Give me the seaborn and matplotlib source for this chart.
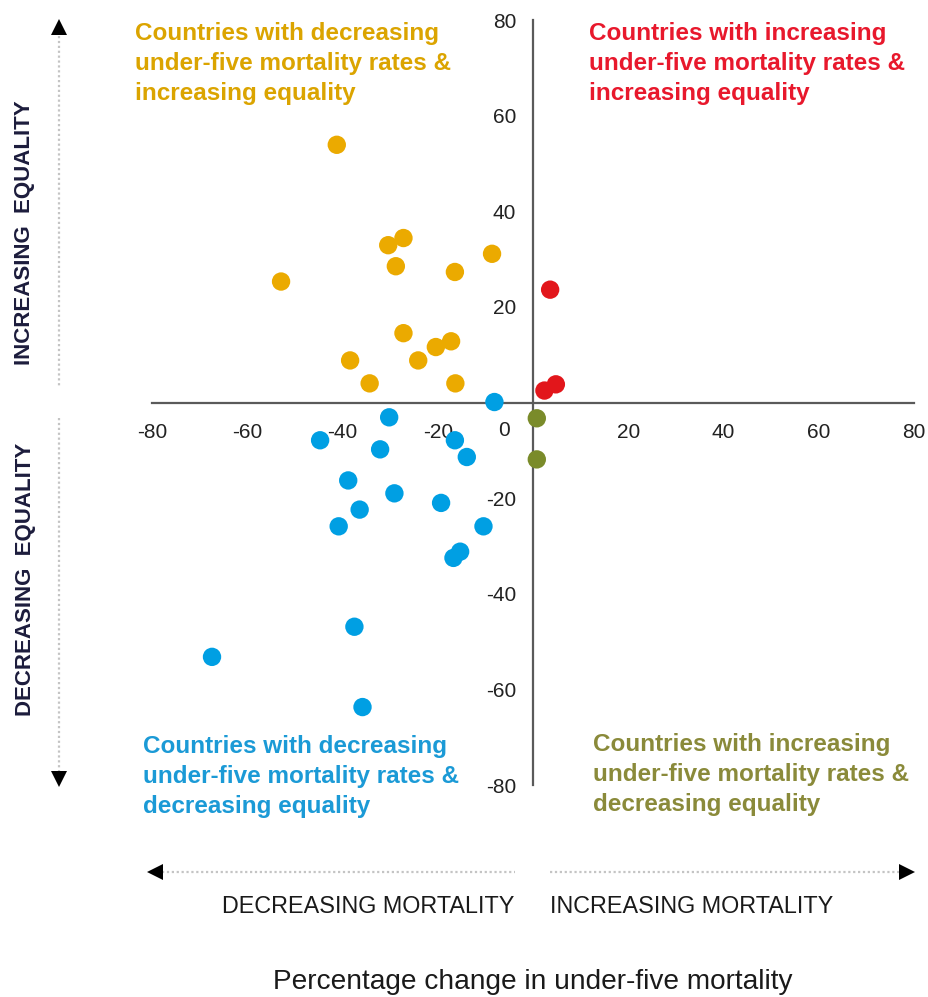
import numpy as np
import pandas as pd
import matplotlib.pyplot as plt
import seaborn as sns

# percentage change in under-five mortality (x) vs change in equality (y)
orange_x = [-41.2, -27.2, -30.4, -8.6, -28.8, -16.4, -52.9, -27.2, -17.2, -20.4, -38.4, -24.1, -34.3, -16.3]
orange_y = [53.9, 34.4, 32.9, 31.1, 28.5, 27.3, 25.3, 14.5, 12.8, 11.6, 8.8, 8.8, 4.0, 4.0]
blue_x = [-8.1, -30.2, -44.7, -16.4, -32.1, -13.9, -38.8, -29.1, -19.3, -36.4, -40.8, -10.4, -15.3, -16.7, -37.5, -67.4, -35.8]
blue_y = [0.1, -3.1, -7.9, -7.9, -9.8, -11.4, -16.3, -19.0, -21.0, -22.4, -25.9, -25.9, -31.2, -32.5, -46.9, -53.2, -63.7]
red_x = [3.6, 2.4, 4.8]
red_y = [23.6, 2.5, 3.8]
olive_x = [0.8, 0.8]
olive_y = [-3.3, -11.9]

ticks = [-80, -60, -40, -20, 20, 40, 60, 80]

df = pd.concat([
    pd.DataFrame({'x': orange_x, 'y': orange_y, 'group': 'dec_mort_inc_eq'}),
    pd.DataFrame({'x': blue_x, 'y': blue_y, 'group': 'dec_mort_dec_eq'}),
    pd.DataFrame({'x': red_x, 'y': red_y, 'group': 'inc_mort_inc_eq'}),
    pd.DataFrame({'x': olive_x, 'y': olive_y, 'group': 'inc_mort_dec_eq'}),
], ignore_index=True)

pal = {'dec_mort_inc_eq': '#EBAA00', 'dec_mort_dec_eq': '#009FE3',
       'inc_mort_inc_eq': '#E2161B', 'inc_mort_dec_eq': '#7A8B2A'}

sns.set_style('white')
plt.rcParams['font.family'] = ['Liberation Sans', 'DejaVu Sans']

W, H = 929, 997
fig = plt.figure(figsize=(W / 100, H / 100), dpi=100)
ax = fig.add_axes([152 / W, 1 - 785 / H, (914 - 152) / W, (785 - 20) / H])

sns.scatterplot(data=df, x='x', y='y', hue='group', palette=pal, s=175,
                edgecolor='none', legend=False, ax=ax, clip_on=False, zorder=3)

ax.set_xlim(-80, 80)
ax.set_ylim(-80, 80)
ax.set_xlabel('')
ax.set_ylabel('')
for s in ['top', 'right']:
    ax.spines[s].set_visible(False)
for s in ['left', 'bottom']:
    ax.spines[s].set_position(('data', 0))
    ax.spines[s].set_color('#5a5a5a')
    ax.spines[s].set_linewidth(1.6)

ax.set_xticks(ticks)
ax.set_yticks(ticks)
ax.set_xticklabels([str(t) for t in ticks])
ax.set_yticklabels([str(t) for t in ticks])
ax.tick_params(axis='both', direction='out', width=1.6, color='#5a5a5a',
               labelsize=15, labelcolor='#222222')
ax.tick_params(axis='x', length=7, pad=8)
ax.tick_params(axis='y', length=9, pad=3)
ax.annotate('0', xy=(0, 0), xytext=(-17, -13), textcoords='offset points',
            ha='right', va='top', fontsize=15, color='#222222')

# overlay in pixel coordinates for arrows and labels
ov = fig.add_axes([0, 0, 1, 1])
ov.set_xlim(0, W)
ov.set_ylim(H, 0)
ov.axis('off')

dot = dict(color='#c4c4c4', lw=1.6, ls=(0, (1, 1.2)))
ov.plot([59, 59], [36, 386], **dot)
ov.plot([59, 59], [418, 772], **dot)
ov.plot([162, 515], [872, 872], **dot)
ov.plot([550, 900], [872, 872], **dot)
ov.plot([59], [27], marker='^', color='black', ms=12, mew=0)
ov.plot([59], [779], marker='v', color='black', ms=12, mew=0)
ov.plot([155], [872], marker='<', color='black', ms=12, mew=0)
ov.plot([907], [872], marker='>', color='black', ms=12, mew=0)

side = dict(rotation=90, ha='center', va='center', fontsize=16,
            fontweight='bold', color='#1c1c3c')
ov.text(25, 233, 'INCREASING  EQUALITY', **side)
ov.text(26, 579, 'DECREASING  EQUALITY', **side)

ov.text(368, 906, 'DECREASING MORTALITY', ha='center', va='center',
        fontsize=16.8, color='#1a1a1a')
ov.text(692, 906, 'INCREASING MORTALITY', ha='center', va='center',
        fontsize=16.8, color='#1a1a1a')
ov.text(533, 982, 'Percentage change in under-five mortality', ha='center',
        va='center', fontsize=20.2, color='#1a1a1a')

quad = dict(ha='left', va='top', fontsize=17.5, fontweight='bold', linespacing=1.38)
ov.text(135, 22, 'Countries with decreasing\nunder-five mortality rates &\nincreasing equality',
        color='#DBA400', **quad)
ov.text(589, 22, 'Countries with increasing\nunder-five mortality rates &\nincreasing equality',
        color='#E8182C', **quad)
ov.text(143, 735, 'Countries with decreasing\nunder-five mortality rates &\ndecreasing equality',
        color='#1B9AD6', **quad)
ov.text(593, 733, 'Countries with increasing\nunder-five mortality rates &\ndecreasing equality',
        color='#8A8A3A', **quad)

fig.savefig('out.png', dpi=100)
